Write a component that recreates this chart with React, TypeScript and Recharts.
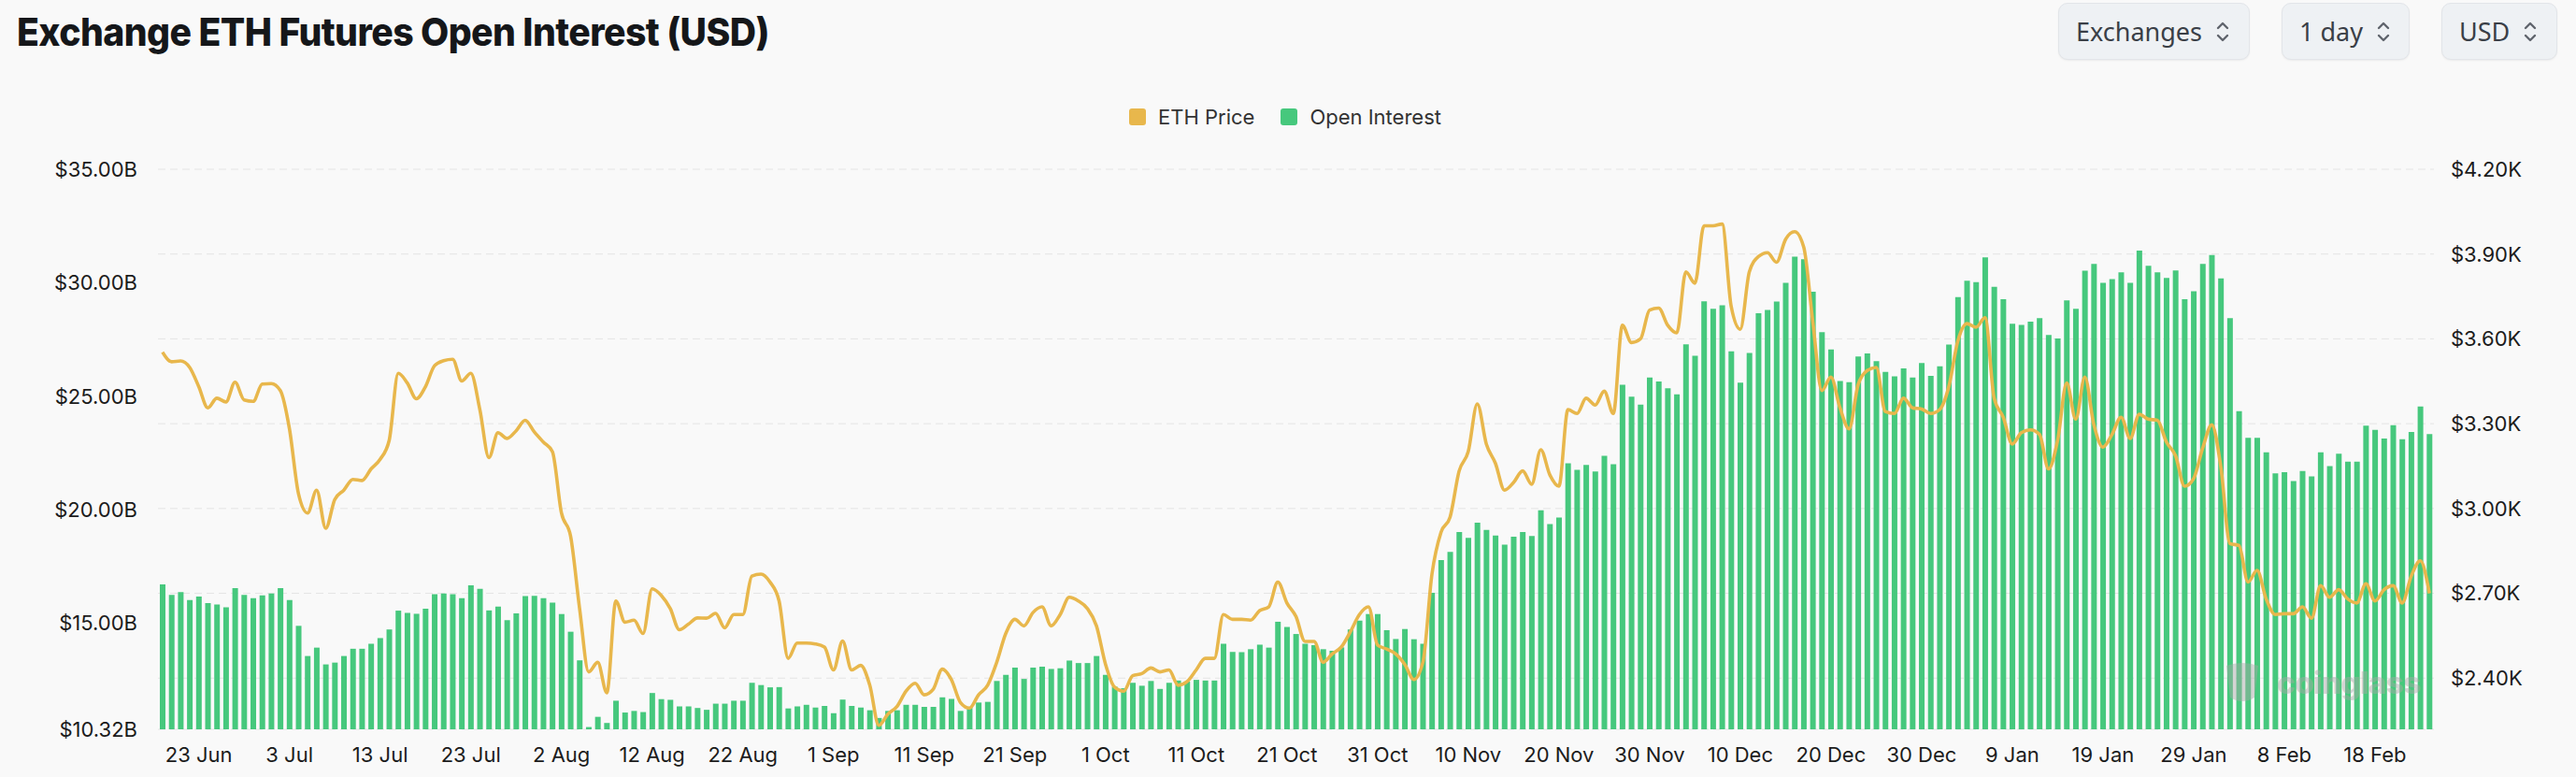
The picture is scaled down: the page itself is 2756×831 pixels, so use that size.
import React from 'react';
import { ComposedChart, Bar, Line, XAxis, YAxis, CartesianGrid } from 'recharts';

// first bar is 19 Jun 2024, one bar per day
const START_DATE = Date.UTC(2024, 5, 19);
const MONTHS = ['Jan', 'Feb', 'Mar', 'Apr', 'May', 'Jun', 'Jul', 'Aug', 'Sep', 'Oct', 'Nov', 'Dec'];

// open interest, $B
const openInterest = [
  16.71, 16.24, 16.37, 16.02, 16.17, 15.88, 15.82, 15.70, 16.54, 16.24, 16.10, 16.22, 16.30, 16.54, 16.02, 14.88,
  13.55, 13.92, 13.18, 13.26, 13.55, 13.87, 13.87, 14.09, 14.34, 14.72, 15.55, 15.45, 15.41, 15.63, 16.27, 16.30,
  16.27, 16.10, 16.66, 16.51, 15.56, 15.73, 15.13, 15.43, 16.19, 16.20, 16.10, 15.90, 15.40, 14.62, 13.36, 10.42,
  10.87, 10.60, 11.58, 11.06, 11.13, 11.08, 11.92, 11.65, 11.62, 11.33, 11.33, 11.26, 11.18, 11.45, 11.45, 11.58,
  11.58, 12.37, 12.27, 12.17, 12.18, 11.24, 11.33, 11.40, 11.28, 11.35, 11.03, 11.63, 11.35, 11.28, 11.16, 10.82,
  11.13, 11.16, 11.40, 11.40, 11.31, 11.31, 11.73, 11.66, 11.13, 11.30, 11.50, 11.53, 12.45, 12.72, 13.04, 12.54,
  13.04, 13.08, 12.98, 13.01, 13.35, 13.24, 13.24, 13.55, 12.72, 12.20, 12.13, 12.37, 12.24, 12.45, 12.10, 12.37,
  12.47, 12.42, 12.50, 12.47, 12.47, 14.09, 13.73, 13.72, 13.85, 14.05, 13.92, 15.06, 14.83, 14.52, 14.09, 14.03,
  13.85, 13.78, 13.93, 14.72, 15.11, 15.40, 15.40, 14.69, 14.30, 14.74, 14.29, 14.09, 16.34, 17.78, 18.14, 19.01,
  18.76, 19.43, 19.11, 18.86, 18.46, 18.81, 19.01, 18.84, 19.97, 19.36, 19.65, 22.04, 21.75, 21.97, 21.68, 22.37,
  22.00, 25.50, 24.98, 24.63, 25.82, 25.65, 25.35, 25.08, 27.28, 26.78, 29.18, 28.85, 29.00, 26.98, 25.60, 26.90,
  28.66, 28.80, 29.17, 29.99, 31.15, 31.03, 29.60, 27.82, 27.06, 25.67, 25.62, 26.75, 26.88, 26.54, 26.07, 25.87,
  26.22, 25.82, 26.46, 25.89, 26.32, 27.27, 29.37, 30.09, 30.02, 31.12, 29.82, 29.27, 28.19, 28.14, 28.28, 28.44,
  27.70, 27.54, 29.22, 28.85, 30.53, 30.83, 29.99, 30.16, 30.46, 29.99, 31.42, 30.75, 30.46, 30.21, 30.54, 29.27,
  29.62, 30.83, 31.22, 30.19, 28.44, 24.34, 23.16, 23.16, 22.53, 21.60, 21.65, 21.26, 21.70, 21.47, 22.53, 21.92,
  22.46, 22.11, 22.11, 23.70, 23.52, 23.13, 23.72, 23.10, 23.42, 24.54, 23.33,
];

// ETH price, $K
const ethPrice = [
  3.553, 3.519, 3.522, 3.499, 3.431, 3.356, 3.390, 3.377, 3.447, 3.384, 3.379, 3.440, 3.442, 3.417, 3.282, 3.052,
  2.984, 3.065, 2.930, 3.032, 3.065, 3.103, 3.099, 3.140, 3.174, 3.241, 3.478, 3.444, 3.388, 3.431, 3.505, 3.523,
  3.528, 3.451, 3.478, 3.350, 3.180, 3.268, 3.248, 3.275, 3.312, 3.271, 3.235, 3.201, 2.984, 2.903, 2.646, 2.422,
  2.456, 2.348, 2.673, 2.598, 2.605, 2.558, 2.716, 2.693, 2.646, 2.571, 2.591, 2.613, 2.612, 2.629, 2.578, 2.625,
  2.625, 2.761, 2.768, 2.740, 2.673, 2.470, 2.524, 2.524, 2.521, 2.510, 2.429, 2.531, 2.429, 2.445, 2.375, 2.233,
  2.273, 2.300, 2.354, 2.382, 2.341, 2.361, 2.432, 2.395, 2.314, 2.294, 2.341, 2.375, 2.456, 2.558, 2.608, 2.585,
  2.632, 2.652, 2.585, 2.625, 2.686, 2.673, 2.646, 2.585, 2.449, 2.368, 2.354, 2.409, 2.416, 2.436, 2.422, 2.429,
  2.375, 2.388, 2.429, 2.470, 2.470, 2.625, 2.608, 2.608, 2.605, 2.639, 2.652, 2.740, 2.666, 2.618, 2.530, 2.530,
  2.456, 2.486, 2.510, 2.564, 2.625, 2.652, 2.517, 2.503, 2.486, 2.449, 2.395, 2.456, 2.768, 2.916, 2.970, 3.133,
  3.201, 3.370, 3.228, 3.160, 3.065, 3.092, 3.133, 3.086, 3.208, 3.119, 3.079, 3.350, 3.336, 3.390, 3.366, 3.415,
  3.336, 3.648, 3.587, 3.600, 3.702, 3.709, 3.648, 3.621, 3.837, 3.797, 4.000, 4.000, 4.006, 3.715, 3.634, 3.837,
  3.891, 3.905, 3.871, 3.952, 3.979, 3.925, 3.661, 3.417, 3.465, 3.356, 3.282, 3.438, 3.488, 3.499, 3.343, 3.336,
  3.390, 3.356, 3.352, 3.336, 3.350, 3.431, 3.593, 3.654, 3.641, 3.675, 3.390, 3.323, 3.228, 3.268, 3.278, 3.262,
  3.140, 3.241, 3.444, 3.316, 3.465, 3.296, 3.217, 3.262, 3.323, 3.248, 3.333, 3.316, 3.312, 3.235, 3.187, 3.079,
  3.106, 3.214, 3.296, 3.147, 2.876, 2.869, 2.740, 2.781, 2.680, 2.625, 2.628, 2.628, 2.652, 2.612, 2.727, 2.686,
  2.713, 2.680, 2.666, 2.734, 2.673, 2.713, 2.727, 2.666, 2.761, 2.815, 2.700,
];

const dateTicks = [
  '23 Jun', '3 Jul', '13 Jul', '23 Jul', '2 Aug', '12 Aug', '22 Aug', '1 Sep', '11 Sep', '21 Sep', '1 Oct',
  '11 Oct', '21 Oct', '31 Oct', '10 Nov', '20 Nov', '30 Nov', '10 Dec', '20 Dec', '30 Dec', '9 Jan', '19 Jan',
  '29 Jan', '8 Feb', '18 Feb',
];
const oiTicks = [10.32, 15, 20, 25, 30, 35];
const priceTicks = [2.4, 2.7, 3.0, 3.3, 3.6, 3.9, 4.2];

const GREEN = '#46c87d';
const GOLD = '#e8b74c';
const FONT = 'Inter, "Noto Sans", sans-serif';

const dayLabel = (i: number) => {
  const d = new Date(START_DATE + i * 86400000);
  return `${d.getUTCDate()} ${MONTHS[d.getUTCMonth()]}`;
};

const data = openInterest.map((oi, i) => ({ day: dayLabel(i), oi, price: ethPrice[i] }));

const Chevrons = () => (
  <svg width="16" height="26" viewBox="0 0 16 26" style={{ marginLeft: 14 }}>
    <path d="M3 9 L8 4 L13 9" fill="none" stroke="#5f646c" strokeWidth="2.4" strokeLinecap="round" strokeLinejoin="round" />
    <path d="M3 17 L8 22 L13 17" fill="none" stroke="#5f646c" strokeWidth="2.4" strokeLinecap="round" strokeLinejoin="round" />
  </svg>
);

const Select = ({ label, left, width }: { label: string; left: number; width: number }) => (
  <div
    style={{
      position: 'absolute', top: 3, left, width, height: 61, boxSizing: 'border-box',
      display: 'flex', alignItems: 'center', paddingLeft: 18,
      background: '#eef1f4', border: '1px solid #e2e5e9', borderRadius: 10,
      boxShadow: '0 1px 2px rgba(0,0,0,0.06)',
      fontFamily: '"Noto Sans", sans-serif', fontSize: 27, color: '#3a3f47',
    }}
  >
    {label}
    <Chevrons />
  </div>
);

const LegendItem = ({ color, label }: { color: string; label: string }) => (
  <div style={{ display: 'flex', alignItems: 'center', marginRight: 28 }}>
    <div style={{ width: 18, height: 18, borderRadius: 3, background: color, marginRight: 13 }} />
    <span>{label}</span>
  </div>
);

export default function App() {
  return (
    <div style={{ position: 'absolute', left: 0, top: 0, width: 2756, height: 831, background: '#f9f9f9', overflow: 'hidden' }}>
      <div
        style={{
          position: 'absolute', left: 18, top: 14, lineHeight: '40px', fontSize: 41, fontWeight: 800,
          fontFamily: FONT, color: '#15171a', whiteSpace: 'nowrap', transform: 'scaleX(0.955)', transformOrigin: 'left',
          letterSpacing: -0.6,
        }}
      >
        Exchange ETH Futures Open Interest (USD)
      </div>

      <Select label="Exchanges" left={2202} width={205} />
      <Select label="1 day" left={2441} width={137} />
      <Select label="USD" left={2612} width={124} />

      <div
        style={{
          position: 'absolute', top: 112, left: 1208, display: 'flex', fontFamily: FONT, fontSize: 22,
          color: '#333', lineHeight: '26px',
        }}
      >
        <LegendItem color={GOLD} label="ETH Price" />
        <LegendItem color={GREEN} label="Open Interest" />
      </div>

      <div style={{ position: 'absolute', left: 0, top: 0 }}>
        <ComposedChart
          width={2756}
          height={831}
          data={data}
          margin={{ top: 181, right: 12, bottom: 11, left: 9 }}
        >
          <CartesianGrid yAxisId="price" vertical={false} stroke="#e4e4e4" strokeDasharray="8 5" />
          <XAxis
            dataKey="day"
            ticks={dateTicks}
            interval={0}
            axisLine={false}
            tickLine={false}
            tickSize={0}
            tickMargin={19}
            height={40}
            tick={{ fill: '#1c1c1c', fontSize: 22, fontFamily: FONT }}
          />
          <YAxis
            yAxisId="oi"
            orientation="left"
            width={160}
            domain={[10.32, 35]}
            ticks={oiTicks}
            allowDataOverflow
            axisLine={false}
            tickLine={false}
            tickSize={0}
            tickMargin={22}
            tickFormatter={(v: number) => `$${v.toFixed(2)}B`}
            tick={{ fill: '#1c1c1c', fontSize: 22, fontFamily: FONT }}
          />
          <YAxis
            yAxisId="price"
            orientation="right"
            width={140}
            domain={[2.219, 4.2]}
            ticks={priceTicks}
            allowDataOverflow
            axisLine={false}
            tickLine={false}
            tickSize={0}
            tickMargin={18}
            tickFormatter={(v: number) => `$${v.toFixed(2)}K`}
            tick={{ fill: '#1c1c1c', fontSize: 22, fontFamily: FONT }}
          />
          <Bar yAxisId="oi" dataKey="oi" name="Open Interest" fill={GREEN} barSize={6} isAnimationActive={false} />
          <Line
            yAxisId="price"
            dataKey="price"
            name="ETH Price"
            type="monotone"
            stroke={GOLD}
            strokeWidth={3.6}
            dot={false}
            isAnimationActive={false}
          />
        </ComposedChart>
      </div>

      {/* faint watermark */}
      <div
        style={{
          position: 'absolute', left: 2378, top: 706, display: 'flex', alignItems: 'center', opacity: 0.45,
          pointerEvents: 'none',
        }}
      >
        <svg width="42" height="48" viewBox="0 0 42 48">
          <path d="M4 6 Q21 0 38 6 L34 40 Q21 48 8 40 Z" fill="#a9a9a9" />
        </svg>
        <span style={{ marginLeft: 16, fontFamily: FONT, fontWeight: 800, fontSize: 33, color: '#a9a9a9', letterSpacing: -0.5 }}>
          coinglass
        </span>
      </div>
    </div>
  );
}
